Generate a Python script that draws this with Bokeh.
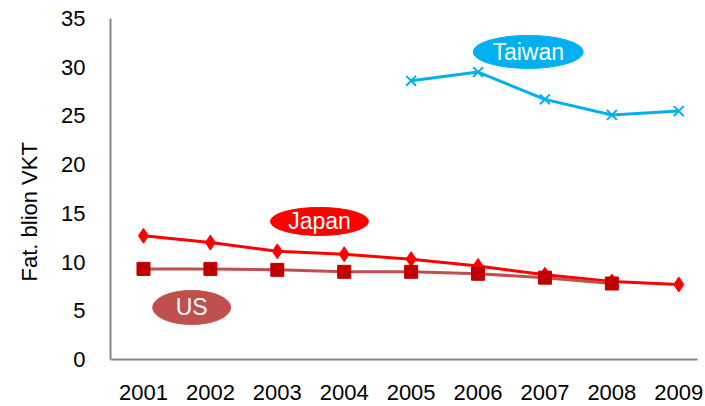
from bokeh.plotting import figure
from bokeh.models import Range1d, FixedTicker, Title
from bokeh.core.properties import value
from bokeh.embed import file_html
from bokeh.resources import INLINE

# ---- data ----
years = [2001, 2002, 2003, 2004, 2005, 2006, 2007, 2008, 2009]
japan = [12.7, 12.0, 11.1, 10.8, 10.3, 9.6, 8.7, 8.0, 7.7]
us_years = [2001, 2002, 2003, 2004, 2005, 2006, 2007, 2008]
us = [9.3, 9.3, 9.2, 9.0, 9.0, 8.8, 8.4, 7.8]
taiwan_years = [2005, 2006, 2007, 2008, 2009]
taiwan = [28.6, 29.5, 26.7, 25.1, 25.5]
y_ticks = [0, 5, 10, 15, 20, 25, 30, 35]
y_title = "Fat. blion VKT"

SANS = "Liberation Sans"

p = figure(width=705, height=406, output_backend="svg", toolbar_location=None,
           x_range=Range1d(2000.507, 2009.28), y_range=Range1d(0, 35),
           min_border_left=110, min_border_right=8, min_border_top=18,
           min_border_bottom=47)
p.outline_line_color = None
p.grid.visible = False
p.background_fill_color = "white"
p.border_fill_color = "white"

for ax in (p.xaxis[0], p.yaxis[0]):
    ax.axis_line_color = "#868686"
    ax.axis_line_width = 2
    ax.major_tick_line_color = None
    ax.minor_tick_line_color = None
    ax.major_label_text_font = SANS
    ax.major_label_text_font_size = "22px"
    ax.major_label_text_color = "black"

p.xaxis.ticker = FixedTicker(ticks=years)
p.xaxis.major_label_standoff = 19
p.yaxis.ticker = FixedTicker(ticks=y_ticks)
p.yaxis.major_label_standoff = 19

# series
p.line(years, japan, line_color="#FF0000", line_width=3)
p.scatter(years, japan, marker="diamond", size=15, fill_color="#FF0000",
          line_color="#FF0000")
p.line(us_years, us, line_color="#C0504D", line_width=3)
p.scatter(us_years, us, marker="square", size=13, fill_color="#C00000",
          line_color="#C00000")
p.line(taiwan_years, taiwan, line_color="#00B0F0", line_width=3)
p.scatter(taiwan_years, taiwan, marker="x", size=14, line_color="#00B0F0",
          line_width=2)

# y title
p.add_layout(Title(text=y_title, align="left", offset=78, text_font=SANS,
                   text_font_size="22px", text_font_style="normal",
                   text_color="black", vertical_align="top", standoff=30),
             "left")

# series name bubbles
bubbles = [
    ("Japan", 2003.63, 14.17, 98, 28, "#FF0000"),
    ("US", 2001.72, 5.34, 78, 34, "#C0504D"),
    ("Taiwan", 2006.75, 31.57, 110, 33, "#00B0F0"),
]
for name, bx, by, bw, bh, col in bubbles:
    p.ellipse(x=bx, y=by, width=bw, height=bh, width_units="screen",
              height_units="screen", fill_color=col, line_color=col)
    p.text(x=[bx], y=[by], text=[name], text_align="center",
           text_baseline="middle", text_color="white",
           text_font=value(SANS), text_font_size="23px")

open("out.html", "w").write(file_html(p, INLINE))
